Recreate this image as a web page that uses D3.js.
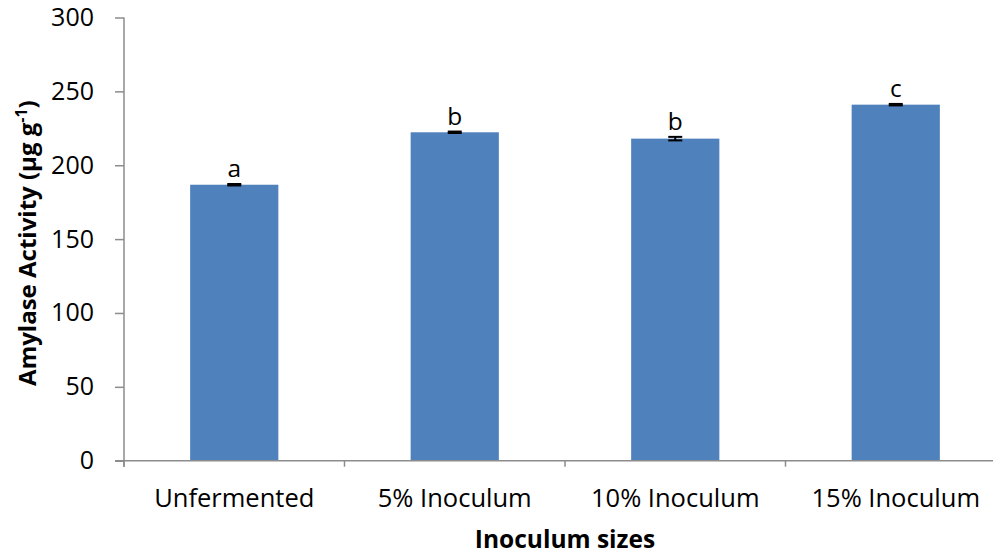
<!DOCTYPE html>
<html>
<head>
<meta charset="utf-8">
<script src="https://cdn.jsdelivr.net/npm/d3@7"></script>
<style>
  html, body { margin: 0; padding: 0; background: #fff; }
  svg { display: block; }
  text { font-family: "Open Sans", sans-serif; fill: #000; }
</style>
</head>
<body>
<svg id="chart" width="993" height="554"></svg>
<script>
// Amylase activity by inoculum size
const categories = ["Unfermented", "5% Inoculum", "10% Inoculum", "15% Inoculum"];
const activity = [186.8, 222.3, 218.0, 241.0];
const errors = [0.5, 0.5, 1.2, 0.5];
const letters = ["a", "b", "b", "c"];
const yTicks = [0, 50, 100, 150, 200, 250, 300];

const svg = d3.select("#chart");
const plotLeft = 124, plotRight = 1006, plotTop = 17.5, plotBottom = 460.7;

const x = d3.scaleBand().domain(categories).range([plotLeft, plotRight]).padding(0);
const y = d3.scaleLinear().domain([0, 300]).range([plotBottom, plotTop]);
const barW = x.bandwidth() * 0.4;
const axisColor = "#8c8c8c";

// bars
svg.selectAll("rect.bar").data(categories).join("rect")
  .attr("class", "bar")
  .attr("x", d => x(d) + x.bandwidth() / 2 - barW / 2)
  .attr("width", barW)
  .attr("y", (d, i) => y(activity[i]))
  .attr("height", (d, i) => y(0) - y(activity[i]))
  .attr("fill", "#4f81bd");

// error bars
const cap = 7;
const eb = svg.append("g").attr("stroke", "#000").attr("stroke-width", 2);
categories.forEach((c, i) => {
  const cx = x(c) + x.bandwidth() / 2;
  const y1 = y(activity[i] + errors[i]), y2 = y(activity[i] - errors[i]);
  eb.append("line").attr("x1", cx).attr("x2", cx).attr("y1", y1).attr("y2", y2);
  eb.append("line").attr("x1", cx - cap).attr("x2", cx + cap).attr("y1", y1).attr("y2", y1);
  eb.append("line").attr("x1", cx - cap).attr("x2", cx + cap).attr("y1", y2).attr("y2", y2);
});

// significance letters
svg.selectAll("text.letter").data(categories).join("text")
  .attr("class", "letter")
  .attr("x", d => x(d) + x.bandwidth() / 2)
  .attr("y", (d, i) => y(activity[i] + errors[i]) - 7)
  .attr("text-anchor", "middle")
  .attr("font-size", 24.5)
  .text((d, i) => letters[i]);

// y axis
const yAxis = svg.append("g")
  .attr("transform", `translate(${plotLeft},0)`)
  .call(d3.axisLeft(y).tickValues(yTicks).tickSize(9).tickPadding(21));
yAxis.select(".domain").attr("stroke", axisColor).attr("stroke-width", 1.5)
  .attr("d", `M0,${plotTop}V${plotBottom + 6}`);
yAxis.selectAll(".tick line").attr("stroke", axisColor).attr("stroke-width", 1.5);
yAxis.selectAll(".tick text").attr("font-size", 25).attr("font-family", "'Open Sans', sans-serif").attr("fill", "#000");

// x axis
const xAxis = svg.append("g").attr("transform", `translate(0,${plotBottom})`);
xAxis.append("line").attr("x1", plotLeft - 9).attr("x2", plotRight).attr("y1", 0).attr("y2", 0)
  .attr("stroke", axisColor).attr("stroke-width", 1.5);
const bounds = categories.map(c => x(c)).concat([plotRight]);
xAxis.selectAll("line.tk").data(bounds).join("line")
  .attr("class", "tk")
  .attr("x1", d => d).attr("x2", d => d).attr("y1", 0).attr("y2", 6)
  .attr("stroke", axisColor).attr("stroke-width", 1.5);
xAxis.selectAll("text.cat").data(categories).join("text")
  .attr("class", "cat")
  .attr("x", d => x(d) + x.bandwidth() / 2)
  .attr("y", 46)
  .attr("text-anchor", "middle")
  .attr("font-size", 25.5)
  .text(d => d);

// axis titles
svg.append("text")
  .attr("x", 565).attr("y", 548)
  .attr("text-anchor", "middle")
  .attr("font-size", 24.5).attr("font-weight", "bold")
  .text("Inoculum sizes");

const yt = svg.append("text")
  .attr("transform", `translate(36,${(plotTop + plotBottom) / 2 + 4}) rotate(-90)`)
  .attr("text-anchor", "middle")
  .attr("font-size", 24).attr("font-weight", "bold");
yt.append("tspan").text("Amylase Activity (µg g");
yt.append("tspan").attr("dy", -9).attr("font-size", 16).text("-1");
yt.append("tspan").attr("dy", 9).text(")");
</script>
</body>
</html>
